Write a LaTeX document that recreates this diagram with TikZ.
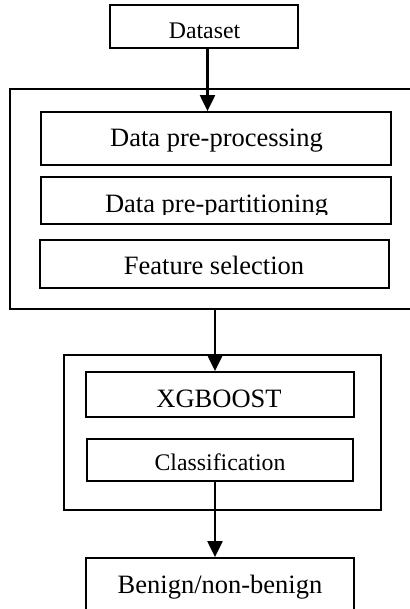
\documentclass[tikz,border=0pt]{standalone}
\usepackage{fontspec}
\setmainfont{Liberation Serif}
\usetikzlibrary{arrows.meta}

\tikzset{
  box/.style={draw=black, line width=1.8pt, inner sep=0pt, minimum width=#1},
  frame/.style={draw=black, line width=1.7pt, inner sep=0pt},
  lbl/.style={anchor=base, inner sep=0pt, font=\fontsize{26.5}{30}\selectfont},
  lblsmall/.style={anchor=base, inner sep=0pt, font=\fontsize{23.8}{28}\selectfont},
  arr/.style={line width=2.2pt, -{Triangle[width=15pt,length=16pt]}}
}

\begin{document}
\begin{tikzpicture}[x=1pt, y=-1pt]
  \useasboundingbox (0,0) rectangle (409,609);

  % outer frames
  \node[frame, minimum width=405pt, minimum height=220pt] (outer1) at (212.5,199) {};
  \node[frame, minimum width=317pt, minimum height=155pt] (outer2) at (222.5,432.5) {};

  % boxes
  \node[box=188pt, minimum height=43pt] (dataset) at (204,26.5) {};
  \node[box=350pt, minimum height=53pt] (preproc) at (216,138.5) {};
  \node[box=350pt, minimum height=47pt] (partition) at (216,200.5) {};
  \node[box=349pt, minimum height=48pt] (feature) at (214.5,264) {};
  \node[box=268pt, minimum height=45pt] (xgb) at (220,394.5) {};
  \node[box=266pt, minimum height=42pt] (cls) at (220,460) {};
  \node[box=268pt, minimum height=56pt] (benign) at (220,586) {};

  % labels
  \node[lblsmall] (tdataset) at (204.5,39) {Dataset};
  \node[lbl] (tpreproc) at (216.5,147) {Data pre-processing};
  \begin{scope}
    \clip (0,0) rectangle (409,215);
    \node[lbl] (tpartition) at (216.5,213) {Data pre-partitioning};
  \end{scope}
  \node[lbl] (tfeature) at (214,274) {Feature selection};
  \node[lbl] (txgb) at (219,407) {XGBOOST};
  \begin{scope}
    \clip (0,0) rectangle (409,471);
    \node[lblsmall] (tcls) at (220,470) {Classification};
  \end{scope}
  \node[lbl] (tbenign) at (220,593) {Benign/non-benign};

  % connectors
  \draw[arr] ([xshift=3.5pt]dataset.south) -- ([xshift=3.5pt]dataset.south |- preproc.north);
  \draw[arr] ([xshift=-5pt]xgb.north |- outer1.south) -- ([xshift=-5pt]xgb.north);
  \draw[arr] ([xshift=-5pt]cls.south) -- ([xshift=-5pt]benign.north);
\end{tikzpicture}
\end{document}
